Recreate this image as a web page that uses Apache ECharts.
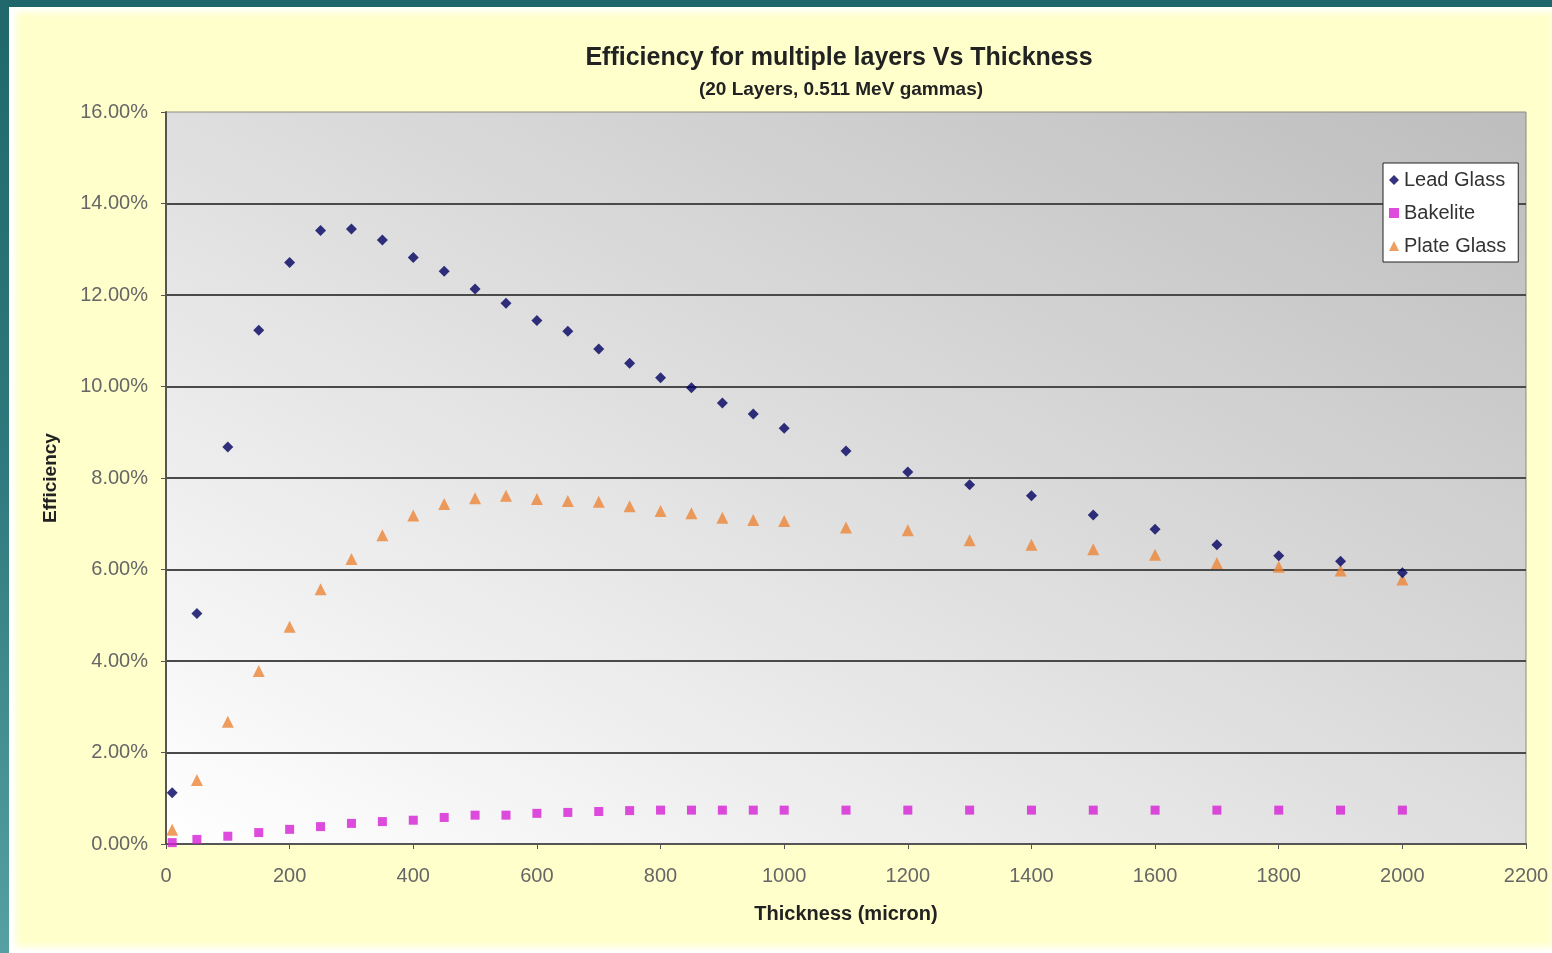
<!DOCTYPE html>
<html>
<head>
<meta charset="utf-8">
<title>Efficiency for multiple layers Vs Thickness</title>
<script src="https://cdn.jsdelivr.net/npm/echarts@6/dist/echarts.min.js"></script>
<style>
  html, body { margin: 0; padding: 0; width: 1552px; height: 953px; overflow: hidden; }
  body { background: linear-gradient(180deg, #1f676b 0%, #2f7a7e 50%, #54a0a2 100%); position: relative; }
  #panel {
    position: absolute; left: 9px; top: 7px; width: 1543px; height: 946px;
    background: #ffffcc;
    box-shadow: inset 9px 7px 6px -2px #ffffff, inset 0 -8px 6px -2px #ffffff;
  }
  #chart { position: absolute; left: 0; top: 0; width: 1552px; height: 953px; }
</style>
</head>
<body>
<div id="panel"></div>
<div id="chart"></div>
<script>
// Thickness in microns
const thickness = [10, 50, 100, 150, 200, 250, 300, 350, 400, 450, 500, 550, 600, 650, 700, 750,
                   800, 850, 900, 950, 1000, 1100, 1200, 1300, 1400, 1500, 1600, 1700, 1800, 1900, 2000];

// Efficiency in percent
const leadGlass = [1.12, 5.04, 8.68, 11.23, 12.71, 13.41, 13.44, 13.20, 12.82, 12.52, 12.13, 11.82, 11.44, 11.21, 10.82, 10.51,
                   10.19, 9.97, 9.64, 9.40, 9.09, 8.59, 8.13, 7.85, 7.61, 7.19, 6.88, 6.54, 6.30, 6.18, 5.93];
const bakelite  = [0.03, 0.10, 0.17, 0.25, 0.32, 0.38, 0.45, 0.49, 0.52, 0.58, 0.63, 0.63, 0.67, 0.69, 0.71, 0.73,
                   0.74, 0.74, 0.74, 0.74, 0.74, 0.74, 0.74, 0.74, 0.74, 0.74, 0.74, 0.74, 0.74, 0.74, 0.74];
const plateGlass = [0.31, 1.40, 2.67, 3.78, 4.75, 5.57, 6.23, 6.75, 7.18, 7.43, 7.56, 7.61, 7.54, 7.50, 7.48, 7.38,
                    7.28, 7.23, 7.13, 7.08, 7.06, 6.92, 6.86, 6.64, 6.54, 6.44, 6.32, 6.14, 6.06, 5.98, 5.78];

const seriesNames = ['Lead Glass', 'Bakelite', 'Plate Glass'];
const titleText = 'Efficiency for multiple layers Vs Thickness';
const subtitleText = '(20 Layers, 0.511 MeV gammas)';
const xAxisName = 'Thickness (micron)';
const yAxisName = 'Efficiency';

const pairs = (ys) => thickness.map((x, i) => [x, ys[i]]);
const FONT = '"Liberation Sans", Arial, sans-serif';

// Plot area geometry (pixels)
const G = { left: 166, top: 112, right: 26, bottom: 109, W: 1552, H: 953 };

// Diagonal shading: grey in the top-right corner fading to white in the bottom-left,
// with iso-lines running along the top-left / bottom-right diagonal.
function plotGradient() {
  const x0 = G.left, y0 = G.top, x1 = G.W - G.right, y1 = G.H - G.bottom;
  const w = x1 - x0, h = y1 - y0, cx = (x0 + x1) / 2, cy = (y0 + y1) / 2;
  const len = Math.hypot(w, h);
  const ux = h / len, uy = -w / len;
  const reach = (w / 2) * ux + (-h / 2) * uy;
  return {
    type: 'linear', global: true,
    x: cx - reach * ux, y: cy - reach * uy, x2: cx + reach * ux, y2: cy + reach * uy,
    colorStops: [{ offset: 0, color: '#ffffff' }, { offset: 1, color: '#bdbdbd' }]
  };
}

const chart = echarts.init(document.getElementById('chart'), null, { renderer: 'canvas' });

chart.setOption({
  backgroundColor: 'transparent',
  animation: false,
  title: [
    { text: titleText, left: 834, top: 41, textAlign: 'center',
      textStyle: { fontFamily: FONT, fontSize: 25, fontWeight: 'bold', color: '#222' } },
    { text: subtitleText, left: 836, top: 75, textAlign: 'center',
      textStyle: { fontFamily: FONT, fontSize: 19, fontWeight: 'bold', color: '#222' } }
  ],
  legend: {
    orient: 'vertical', left: 1383, top: 163,
    backgroundColor: '#ffffff', borderColor: '#222', borderWidth: 1, borderRadius: 0,
    padding: [7, 12, 6, 6], itemGap: 13, itemWidth: 10, itemHeight: 10,
    textStyle: { fontFamily: FONT, fontSize: 20, color: '#333' },
    data: [
      { name: seriesNames[0], icon: 'diamond' },
      { name: seriesNames[1], icon: 'rect' },
      { name: seriesNames[2], icon: 'triangle' }
    ]
  },
  grid: {
    left: G.left, top: G.top, right: G.right, bottom: G.bottom,
    show: true, borderColor: '#8c8c80', borderWidth: 1,
    backgroundColor: plotGradient()
  },
  xAxis: {
    type: 'value', min: 0, max: 2200, interval: 200,
    name: xAxisName, nameLocation: 'middle', nameGap: 60,
    nameTextStyle: { fontFamily: FONT, fontSize: 20, fontWeight: 'bold', color: '#222' },
    axisLine: { show: true, lineStyle: { color: '#555', width: 2 } },
    axisTick: { show: true, length: 5, lineStyle: { color: '#555', width: 1 } },
    axisLabel: { fontFamily: FONT, fontSize: 20, color: '#666', margin: 22,
                 formatter: (v) => String(v) },
    splitLine: { show: false }
  },
  yAxis: {
    type: 'value', min: 0, max: 16, interval: 2,
    name: yAxisName, nameLocation: 'middle', nameGap: 106, nameRotate: 90,
    nameTextStyle: { fontFamily: FONT, fontSize: 19, fontWeight: 'bold', color: '#222' },
    axisLine: { show: true, lineStyle: { color: '#555', width: 2 } },
    axisTick: { show: true, length: 5, lineStyle: { color: '#555', width: 1 } },
    axisLabel: { fontFamily: FONT, fontSize: 20, color: '#666', margin: 18,
                 formatter: (v) => v.toFixed(2) + '%' },
    splitLine: { show: true, showMaxLine: false, lineStyle: { color: '#4a4a4a', width: 2 } }
  },
  series: [
    { name: seriesNames[0], type: 'scatter', symbol: 'diamond', symbolSize: 11,
      itemStyle: { color: '#000060' }, data: pairs(leadGlass), z: 3 },
    { name: seriesNames[1], type: 'scatter', symbol: 'rect', symbolSize: 9,
      itemStyle: { color: '#d61fd6' }, data: pairs(bakelite), z: 2 },
    { name: seriesNames[2], type: 'scatter', symbol: 'triangle', symbolSize: 12,
      itemStyle: { color: '#ec8638' }, data: pairs(plateGlass), z: 2 }
  ]
});
</script>
</body>
</html>
